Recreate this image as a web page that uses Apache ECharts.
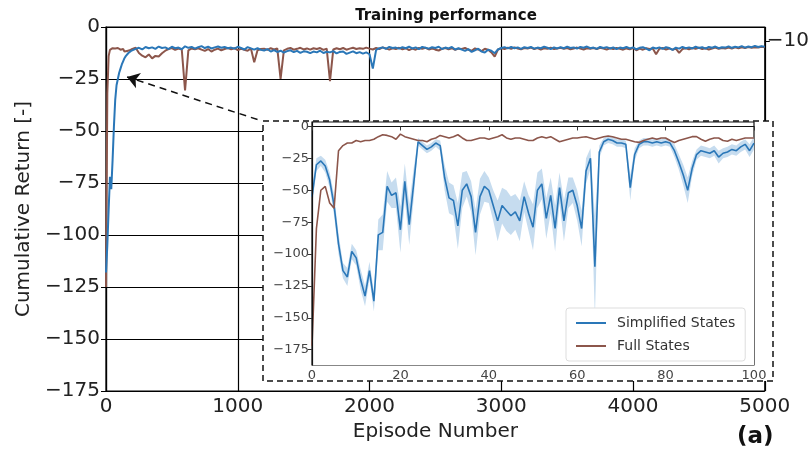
<!DOCTYPE html>
<html>
<head>
<meta charset="utf-8">
<script src="https://cdn.jsdelivr.net/npm/echarts@6.0.0/dist/echarts.min.js"></script>
<style>html,body{margin:0;padding:0;background:#fff;}#chart{width:812px;height:452px;}</style>
</head>
<body>
<div id="chart"></div>
<script>
// ---------- Main chart data (episodes 0..190 step 10, then 200..5000 step 25) ----------
const mainXTicks = [0, 1000, 2000, 3000, 4000, 5000];
const mainYTicks = [0, -25, -50, -75, -100, -125, -150, -175];

const simplifiedMainEarly = [-118,-105,-88,-72,-78,-64,-48,-35,-28,-25,-22,-20,-18,-16.5,-15,-14,-13.2,-12.5,-12,-11.5];
const fullMainEarly = [-125,-32,-14,-11,-10.5,-10.2,-10.8,-10.3,-10.6,-10.1,-10.4,-10.9,-10.2,-10.6,-11.8,-12.4,-11.5,-10.8,-11.2,-10.6];

const simplifiedMainLate = [
-11,-10.5,-10,-10.8,-9.6,-10.2,-9.8,-10.5,-9.4,-10.1,
-9.8,-10.6,-9.5,-10.2,-9.9,-10.7,-9.3,-10,-9.6,-10.4,
-9.7,-9.2,-10.1,-9.5,-10.3,-9.8,-9.4,-10,-9.6,-10.2,
-9.9,-10.4,-9.5,-10.1,-10.8,-9.7,-10.3,-10.9,-10.2,-11,
-11.3,-10.6,-11.8,-11.1,-12,-11.4,-12.3,-11.6,-11.2,-12.1,
-11.5,-12.4,-11.7,-11.9,-12.6,-11.8,-12.2,-11.4,-12.5,-11.9,
-12.2,-11.6,-12.7,-12,-11.8,-12.9,-12.3,-11.7,-12.6,-12.1,
-12.8,-12.2,-13.1,-20,-11,-10.2,-9.8,-10.5,-9.6,-10.1,
-9.9,-10.4,-9.7,-10.2,-9.5,-10.3,-9.8,-10.6,-9.6,-10,
-10.4,-9.7,-10.1,-9.5,-10.6,-9.9,-10.3,-9.6,-10.8,-10.2,
-10.9,-11.5,-10.6,-12,-11.2,-10.4,-11.8,-12.3,-10.9,-11.4,
-12.6,-10.8,-10.1,-9.7,-10.3,-9.6,-10.2,-9.8,-10.5,-9.7,
-10.1,-9.6,-10.4,-9.9,-10.2,-9.5,-10,-10.6,-9.8,-10.3,
-9.7,-10.2,-9.5,-10.1,-9.8,-10.4,-9.6,-10,-9.4,-10.2,
-9.9,-10.5,-9.6,-10.1,-9.7,-10.3,-9.8,-10.6,-9.9,-10.2,
-9.6,-10.3,-9.8,-10.7,-10,-9.7,-10.4,-11.2,-9.9,-10.3,
-9.8,-10.5,-9.7,-10.1,-11,-9.9,-10.4,-9.6,-10.2,-9.8,
-10.3,-9.5,-10.1,-9.7,-10.4,-9.6,-10,-9.4,-10.2,-9.7,
-9.9,-9.3,-10,-9.5,-9.8,-9.2,-9.9,-9.4,-9.7,-9.1,
-9.6,-9.2,-9.5];

const fullMainLate = [
-10.5,-10,-12.5,-13.8,-14.6,-13.2,-15.1,-13.9,-14.2,-12.6,
-11.4,-10.6,-10.1,-11,-10.4,-10.8,-30.5,-11.2,-10.3,-10.7,
-10.2,-10.9,-11.5,-10.6,-11.8,-10.9,-10.4,-11.2,-10.6,-10.1,
-10.7,-10.2,-11.1,-10.5,-10.9,-11.4,-10.3,-17,-11.2,-10.6,
-10.4,-11,-10.2,-10.8,-10.3,-25,-11.2,-10.5,-10.1,-10.9,
-10.5,-10,-10.8,-10.3,-10.9,-10.2,-10.6,-10.1,-11,-10.4,
-26,-10.8,-10.2,-10.7,-10.1,-10.9,-10.4,-10,-10.6,-10.2,
-10.5,-9.9,-10.4,-10.8,-10.1,-10.6,-9.8,-10.3,-10.9,-10.2,
-10.6,-10,-10.7,-10.2,-11.1,-10.4,-10.9,-10.1,-10.5,-10,
-10.8,-10.3,-10.9,-11.3,-10.5,-10.1,-10.7,-10.2,-11,-10.4,
-10.6,-10.1,-10.9,-11.4,-10.3,-10.8,-11.6,-10.5,-10.9,-12.2,
-14.2,-10.8,-10.2,-10.6,-10,-10.5,-9.8,-10.3,-10.7,-10.1,
-10.4,-9.9,-10.6,-10.1,-10.8,-10.2,-10.5,-9.9,-10.6,-10.3,
-10,-10.5,-10.1,-10.7,-10.3,-9.9,-10.4,-10.8,-10.2,-10.5,
-10.1,-10.6,-10,-10.4,-10.8,-10.2,-10.6,-10.1,-10.5,-10.9,
-10.3,-10.7,-10.1,-11.2,-10.4,-10.9,-10.2,-10.6,-10.3,-13.1,
-10.5,-10.1,-10.8,-10.3,-10.9,-10.4,-12.4,-10.6,-10.2,-10.7,
-10.1,-10.5,-10,-10.6,-10.2,-10.8,-10.3,-9.9,-10.5,-10.1,
-10.4,-9.9,-10.3,-9.8,-10.2,-9.7,-10.1,-9.6,-10,-9.7,
-9.9,-9.5,-9.8];

// ---------- Inset data (episodes 0..100) ----------
const insetXTicks = [0, 20, 40, 60, 80, 100];
const insetYTicks = [0, -25, -50, -75, -100, -125, -150, -175];
const simplifiedInset = [
-55,-30,-27,-31,-42,-62,-92,-113,-118,-98,
-103,-120,-133,-113,-137,-85,-83,-47,-54,-52,
-81,-43,-77,-45,-12,-15,-18,-16,-13,-15,
-40,-56,-58,-78,-50,-45,-55,-83,-55,-47,
-50,-62,-74,-62,-66,-70,-67,-74,-55,-68,
-79,-50,-45,-72,-54,-80,-48,-74,-52,-50,
-62,-80,-35,-25,-110,-20,-12,-10,-11,-13,
-13,-14,-48,-22,-14,-12,-12,-13,-12,-13,
-12,-13,-19,-28,-38,-50,-33,-22,-19,-20,
-21,-19,-24,-21,-20,-18,-19,-16,-14,-19,
-13];
const simplifiedInsetSpread = [
8,5,4,5,6,8,8,6,7,6,
6,8,8,7,8,12,14,12,10,12,
18,14,16,12,3,3,3,3,3,4,
10,12,12,18,14,10,12,18,14,12,
10,12,16,14,16,15,14,16,12,14,
18,14,12,16,14,18,12,16,12,10,
12,14,10,8,40,5,3,3,3,3,
3,3,10,5,3,3,3,3,3,3,
3,3,5,6,8,10,6,4,4,4,
4,4,5,4,4,4,4,4,4,5,
5];
const fullInset = [
-172,-80,-50,-47,-60,-64,-19,-15,-13,-13,
-11,-12,-11,-11,-10,-8,-6.5,-7,-8,-10,
-6,-8,-9,-10,-11,-11,-12,-10,-9,-7,
-8,-9,-8,-6.5,-9,-11,-11,-10,-9,-9,
-10,-9,-8,-6.5,-9,-10,-9,-9,-10,-11,
-11,-9,-8,-9,-8,-10,-12,-11,-10,-9,
-9,-8.5,-8,-9,-10,-9,-8,-7.5,-8,-9,
-10,-10,-11,-12,-12.5,-11,-10,-9,-10,-9,
-9,-11,-12.5,-11,-10,-9,-8,-8,-10,-11.6,
-10,-9,-9,-11,-11.6,-10,-11,-10,-9,-9,
-9];

const seriesNames = ['Simplified States', 'Full States'];
const blue = '#2a77b8';
const brown = '#8c564b';

// ---------- build ----------
const mainEpisodes = [];
for (let e = 0; e < 200; e += 10) mainEpisodes.push(e);
for (let e = 200; e <= 5000; e += 25) mainEpisodes.push(e);
const simplifiedMain = simplifiedMainEarly.concat(simplifiedMainLate);
const fullMain = fullMainEarly.concat(fullMainLate);
const pair = (xs, ys) => ys.map((v, i) => [xs[i], v]);
const insetEpisodes = simplifiedInset.map((_, i) => i);
const bandLow = simplifiedInset.map((v, i) => v - simplifiedInsetSpread[i]);
const bandHigh = simplifiedInset.map((v, i) => v + simplifiedInsetSpread[i]);

const fam = 'DejaVu Sans';
const minus = v => String(v).replace('-', '\u2212');
const plain = v => String(v);

const chart = echarts.init(document.getElementById('chart'), null, {renderer: 'canvas'});
chart.setOption({
  animation: false,
  backgroundColor: '#fff',
  title: [
    {text: 'Training performance', left: 441, top: 4, textAlign: 'center',
     textStyle: {fontFamily: fam, fontSize: 15, fontWeight: 'bold', color: '#111'}},
    {text: '(a)', left: 732, top: 421,
     textStyle: {fontFamily: fam, fontSize: 23, fontWeight: 'bold', color: '#111'}}
  ],
  graphic: [{
    type: 'rect', z: 1,
    shape: {x: 263, y: 121, width: 510, height: 260},
    style: {fill: '#fff', stroke: '#111', lineWidth: 1.5, lineDash: [6, 4]}
  }],
  legend: {
    data: seriesNames, orient: 'vertical', left: 566, top: 308, z: 9,
    itemWidth: 30, itemHeight: 2, itemGap: 9, icon: 'rect',
    padding: [8, 10, 8, 10], borderColor: '#ddd', borderWidth: 1, borderRadius: 3,
    backgroundColor: '#fff',
    textStyle: {fontFamily: fam, fontSize: 14, color: '#333', padding: [0, 0, 0, 6]}
  },
  grid: [
    {left: 106, right: 39, top: 27, bottom: 61, show: true, borderColor: '#000', borderWidth: 1.2, z: 0},
    {left: 312, right: 58, top: 122, bottom: 87, show: true, borderColor: '#111', borderWidth: 1.2, backgroundColor: 'rgba(0,0,0,0)', z: 3}
  ],
  xAxis: [
    {gridIndex: 0, type: 'value', min: 0, max: 5000, interval: 1000,
     axisLine: {lineStyle: {color: '#000', width: 1.2}},
     axisTick: {show: true, length: 5, lineStyle: {color: '#000'}},
     splitLine: {show: true, lineStyle: {color: '#000', width: 1.2}},
     axisLabel: {fontFamily: fam, fontSize: 20, color: '#222', margin: 6, formatter: plain, customValues: mainXTicks},
     name: 'Episode Number', nameLocation: 'middle', nameGap: 30,
     nameTextStyle: {fontFamily: fam, fontSize: 20, color: '#222'}},
    {gridIndex: 1, type: 'value', min: 0, max: 100, interval: 20, z: 8,
     axisLine: {lineStyle: {color: '#111', width: 1.2}},
     axisTick: {show: true, length: 4, lineStyle: {color: '#333'}},
     splitLine: {show: false},
     axisLabel: {fontFamily: fam, fontSize: 13, color: '#444', margin: 4, formatter: plain, customValues: insetXTicks}}
  ],
  yAxis: [
    {gridIndex: 0, type: 'value', min: -175, max: 0, interval: 25,
     axisLine: {show: true, lineStyle: {color: '#000', width: 1.2}},
     axisTick: {show: true, length: 5, lineStyle: {color: '#000'}},
     splitLine: {show: true, lineStyle: {color: '#000', width: 1.2}},
     axisLabel: {fontFamily: fam, fontSize: 20, color: '#222', margin: 6, formatter: minus, customValues: mainYTicks},
     name: 'Cumulative Return [-]', nameLocation: 'middle', nameGap: 68,
     nameTextStyle: {fontFamily: fam, fontSize: 20, color: '#222'}},
    {gridIndex: 0, type: 'value', position: 'right', min: -260, max: 0,
     axisLine: {show: false},
     axisTick: {show: true, length: 5, lineStyle: {color: '#000'}, customValues: [-10]},
     splitLine: {show: false},
     axisLabel: {fontFamily: fam, fontSize: 20, color: '#222', margin: 2, formatter: minus, customValues: [-10]}},
    {gridIndex: 1, type: 'value', min: -187, max: 3.5, z: 8,
     axisLine: {show: true, lineStyle: {color: '#111', width: 1.2}},
     axisTick: {show: true, length: 4, lineStyle: {color: '#333'}, customValues: insetYTicks},
     splitLine: {show: false},
     axisLabel: {fontFamily: fam, fontSize: 13, color: '#444', margin: 3, formatter: minus, customValues: insetYTicks}}
  ],
  series: [
    {name: seriesNames[1], type: 'line', xAxisIndex: 0, yAxisIndex: 0, showSymbol: false, z: 2,
     data: pair(mainEpisodes, fullMain), lineStyle: {color: brown, width: 2}, itemStyle: {color: brown}},
    {name: seriesNames[0], type: 'line', xAxisIndex: 0, yAxisIndex: 0, showSymbol: false, z: 3,
     data: pair(mainEpisodes, simplifiedMain), lineStyle: {color: blue, width: 2}, itemStyle: {color: blue},
     markLine: {silent: true, symbol: ['none', 'arrow'], symbolSize: 12, label: {show: false},
       lineStyle: {color: '#111', type: [7, 5], width: 1.5},
       data: [[{coord: [1150, -44.5]}, {coord: [160, -24]}]]}},
    {type: 'line', xAxisIndex: 1, yAxisIndex: 2, showSymbol: false, z: 5, silent: true,
     data: pair(insetEpisodes, bandHigh), lineStyle: {width: 0, opacity: 0},
     areaStyle: {color: '#c6dcef', opacity: 1, origin: 'start'}},
    {type: 'line', xAxisIndex: 1, yAxisIndex: 2, showSymbol: false, z: 5, silent: true,
     data: pair(insetEpisodes, bandLow), lineStyle: {width: 0, opacity: 0},
     areaStyle: {color: '#ffffff', opacity: 1, origin: 'start'}},
    {name: seriesNames[0], type: 'line', xAxisIndex: 1, yAxisIndex: 2, showSymbol: false, z: 6,
     data: pair(insetEpisodes, simplifiedInset), lineStyle: {color: blue, width: 1.6}, itemStyle: {color: blue}},
    {name: seriesNames[1], type: 'line', xAxisIndex: 1, yAxisIndex: 2, showSymbol: false, z: 6,
     data: pair(insetEpisodes, fullInset), lineStyle: {color: brown, width: 1.6}, itemStyle: {color: brown}}
  ]
});
</script>
</body>
</html>
